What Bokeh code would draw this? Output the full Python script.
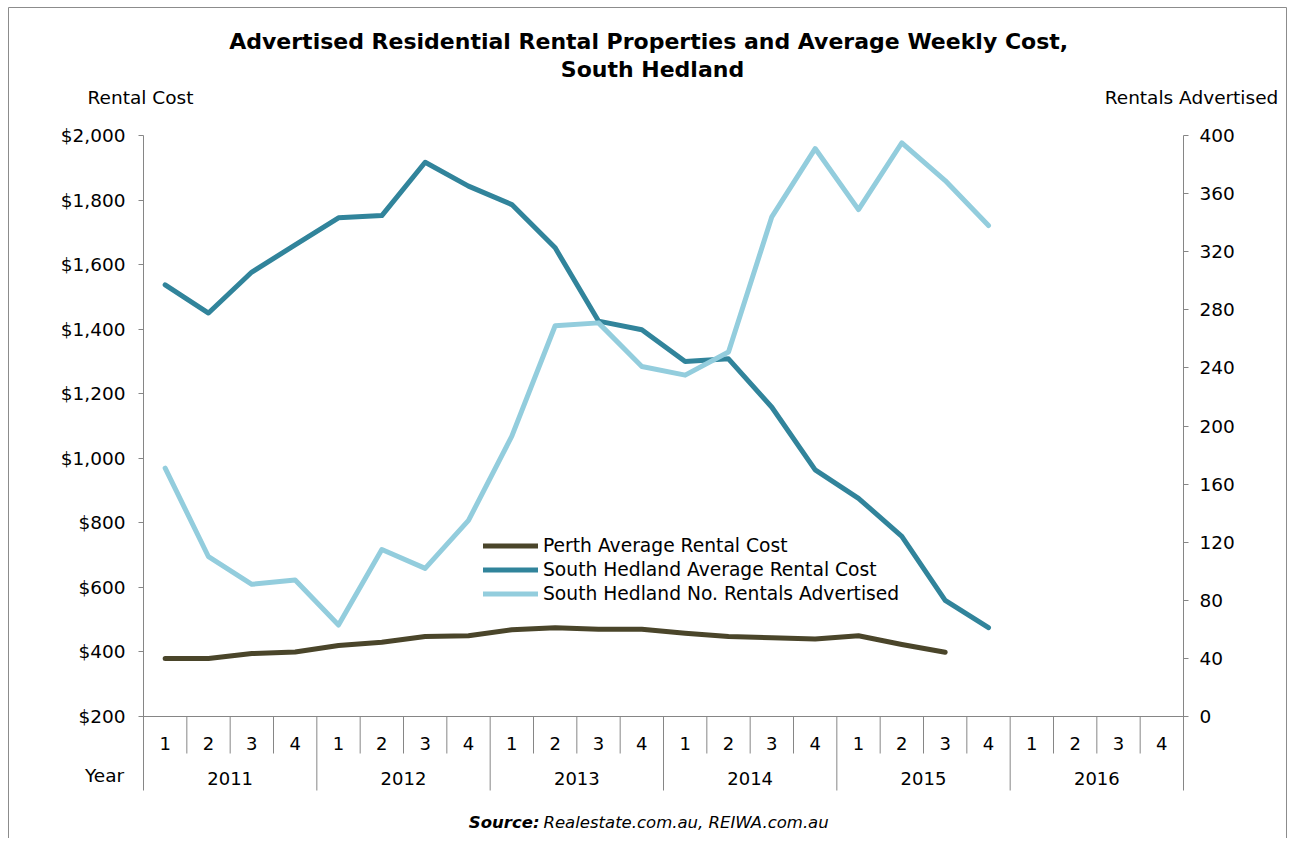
from bokeh.plotting import figure
from bokeh.models import (Range1d, LinearAxis, FixedTicker, NumeralTickFormatter,
                          Label, Legend, LegendItem)
from bokeh.embed import file_html
from bokeh.resources import INLINE
from bokeh.core.properties import value

# ---------------- data ----------------
years = ["2011", "2012", "2013", "2014", "2015", "2016"]
quarters = ["1", "2", "3", "4"]

perth_cost = [380, 380, 395, 400, 420, 430, 448, 450, 469, 475, 470, 470,
              458, 448, 444, 440, 450, 423, 399]
sh_cost = [1537, 1450, 1577, 1661, 1745, 1752, 1917, 1843, 1786, 1652, 1425, 1398,
           1300, 1308, 1158, 964, 876, 758, 560, 475]
sh_rentals = [171, 110, 91, 94, 63, 115, 102, 135, 193, 269, 271, 241,
              235, 251, 344, 391, 349, 395, 369, 338]

left_ticks = list(range(200, 2001, 200))
right_ticks = list(range(0, 401, 40))

title1 = "Advertised Residential Rental Properties and Average  Weekly Cost,"
title2 = "South Hedland"
series_names = ["Perth Average Rental Cost", "South Hedland Average Rental Cost",
                "South Hedland No. Rentals Advertised"]

# ---------------- layout constants (canvas pixels) ----------------
W, H = 1290, 838
FL, FR, FT, FB = 143, 1183, 135, 790     # plot-area edges incl. category band
AX_Y = 716                                # canvas y of the $200 / 0 baseline
FONT = "DejaVu Sans"
GREY = "#868686"
TXT = "18.5px"

cpp_left = 1800.0 / (AX_Y - FT)
cpp_right = 400.0 / (AX_Y - FT)
n_cat = len(years) * len(quarters)
cat_w = (FR - FL) / float(n_cat)


def X(px):
    return (px - FL) / cat_w


def Y(py):
    return 2000 - (py - FT) * cpp_left


def R(py):
    return 400 - (py - FT) * cpp_right


p = figure(width=W, height=H, output_backend="svg", toolbar_location=None, title=None,
           x_range=Range1d(X(0), X(W)), y_range=Range1d(Y(H), Y(0)),
           x_axis_location=None, y_axis_location=None,
           min_border_left=0, min_border_right=0, min_border_top=0, min_border_bottom=0)
p.outline_line_color = None
p.grid.visible = False
p.background_fill_color = "white"
p.border_fill_color = "white"
p.extra_y_ranges = {"r": Range1d(R(H), R(0))}

# outer chart border
p.quad(left=[X(8)], right=[X(1286)], top=[Y(7)], bottom=[Y(H + 30)],
       fill_color=None, line_color="#8c8c8c", line_width=1)

# axes (fixed at the edges of the plot area)
la = LinearAxis(ticker=FixedTicker(ticks=left_ticks),
                formatter=NumeralTickFormatter(format="$0,0"),
                fixed_location=0, bounds=(Y(FB), 2000))
ra = LinearAxis(y_range_name="r", ticker=FixedTicker(ticks=right_ticks),
                fixed_location=n_cat, bounds=(R(FB), 400))
for ax in (la, ra):
    ax.axis_line_color = GREY
    ax.major_tick_line_color = GREY
    ax.major_tick_in = 0
    ax.major_tick_out = 5
    ax.minor_tick_line_color = None
    ax.major_label_text_font = FONT
    ax.major_label_text_font_size = TXT
    ax.major_label_text_color = "#000000"
la.major_label_standoff = 13
ra.major_label_standoff = 11
p.add_layout(la, "left")
p.add_layout(ra, "right")

# category axis band
p.segment(x0=[0], x1=[n_cat], y0=[200], y1=[200], line_color=GREY, line_width=1)
q_sep = [i for i in range(1, n_cat) if i % 4 != 0]
y_sep = [i for i in range(4, n_cat, 4)]
p.segment(x0=q_sep, x1=q_sep, y0=[200] * len(q_sep), y1=[Y(753)] * len(q_sep),
          line_color=GREY, line_width=1)
p.segment(x0=y_sep, x1=y_sep, y0=[200] * len(y_sep), y1=[Y(FB)] * len(y_sep),
          line_color=GREY, line_width=1)
q_x = [i + 0.5 for i in range(n_cat)]
q_t = [quarters[i % 4] for i in range(n_cat)]
p.text(x=q_x, y=[Y(743)] * n_cat, text=q_t, text_align="center", text_baseline="middle",
       text_font=value(FONT), text_font_size="18px", text_color="#000000")
yr_x = [4 * k + 2 for k in range(len(years))]
p.text(x=yr_x, y=[Y(778)] * len(years), text=years, text_align="center",
       text_baseline="middle", text_font=value(FONT), text_font_size="18px",
       text_color="#000000")


# data lines
def xs(vals):
    return [i + 0.5 for i in range(len(vals))]


r_perth = p.line(x=xs(perth_cost), y=perth_cost, line_color="#4A452A",
                 line_width=5, line_join="round", line_cap="round")
r_cost = p.line(x=xs(sh_cost), y=sh_cost, line_color="#31849B",
                line_width=5, line_join="round", line_cap="round")
r_rent = p.line(x=xs(sh_rentals), y=sh_rentals, y_range_name="r",
                line_color="#93CDDD", line_width=5, line_join="round", line_cap="round")

legend = Legend(items=[LegendItem(label=series_names[0], renderers=[r_perth]),
                       LegendItem(label=series_names[1], renderers=[r_cost]),
                       LegendItem(label=series_names[2], renderers=[r_rent])],
                location=(483, H - 604))
legend.label_text_font = FONT
legend.label_text_font_size = "18.7px"
legend.label_text_color = "#000000"
legend.glyph_width = 55
legend.glyph_height = 21
legend.label_height = 21
legend.spacing = 3
legend.padding = 0
legend.margin = 0
legend.label_standoff = 5
legend.border_line_color = None
legend.background_fill_alpha = 0
p.add_layout(legend)


# free texts
def lab(px, py, text, align="center", size=TXT, style="normal"):
    p.add_layout(Label(x=X(px), y=Y(py), text=text, text_align=align,
                       text_baseline="middle", text_font=FONT, text_font_size=size,
                       text_font_style=style, text_color="#000000"))


lab(652, 41, title1, size="22px", style="bold")
lab(652, 69, title2, size="22px", style="bold")
lab(140, 97, "Rental Cost")
lab(1191, 97, "Rentals Advertised")
lab(104, 775, "Year")
lab(539, 822, "Source:", align="right", size="16.5px", style="bold italic")
lab(543, 822, "Realestate.com.au, REIWA.com.au", align="left", size="16.5px", style="italic")

open("out.html", "w").write(file_html(p, INLINE))
